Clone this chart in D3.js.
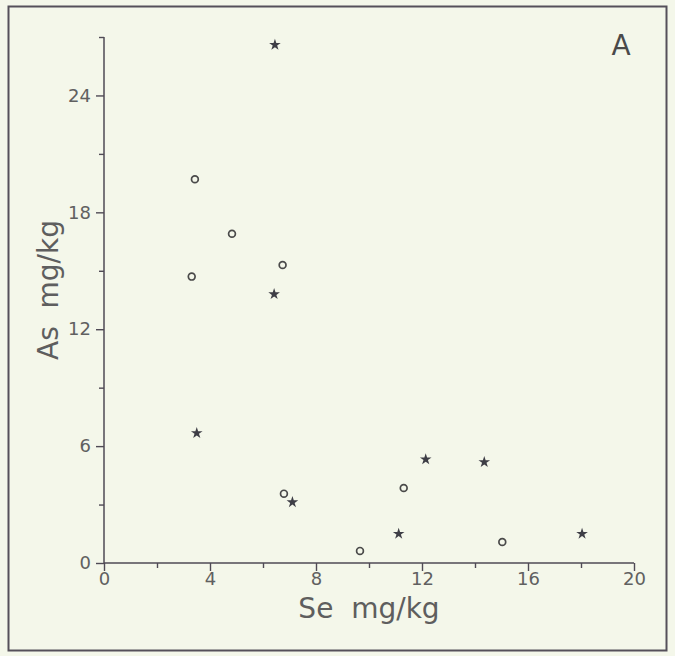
<!DOCTYPE html>
<html>
<head>
<meta charset="utf-8">
<script src="https://cdn.jsdelivr.net/npm/d3@7"></script>
<style>
  body { margin: 0; background: #f4f7ea; }
  svg { display: block; }
  .tick text { font-family: "DejaVu Sans", sans-serif; fill: #606060; }
  .title { font-family: "DejaVu Sans", sans-serif; fill: #5e5e5e; white-space: pre; }
</style>
</head>
<body>
<div id="chart"></div>
<script>
// Se (x) and As (y), mg/kg.
var starSe = [6.45, 6.42, 3.5, 7.11, 12.14, 14.35, 11.12, 18.04];
var starAs = [26.6, 13.8, 6.67, 3.12, 5.32, 5.18, 1.5, 1.5];
var circSe = [3.43, 4.83, 3.31, 6.74, 6.79, 11.31, 9.66, 15.03];
var circAs = [19.7, 16.9, 14.7, 15.3, 3.56, 3.85, 0.62, 1.08];

var xMajor = [0, 4, 8, 12, 16, 20];
var xMinor = [2, 6, 10, 14, 18];
var yMajor = [0, 6, 12, 18, 24];
var yMinor = [3, 9, 15, 21, 27];

var width = 675, height = 656;
var ink = "#4f4a55";

var svg = d3.select("#chart").append("svg")
    .attr("width", width)
    .attr("height", height);

// Frame round the whole panel.
svg.append("rect")
    .attr("x", 8.5).attr("y", 6.5)
    .attr("width", 658).attr("height", 644)
    .attr("fill", "#f4f7ea")
    .attr("stroke", "#55505a")
    .attr("stroke-width", 2);

var x = d3.scaleLinear().domain([0, 20]).range([104, 634]);
var y = d3.scaleLinear().domain([0, 27]).range([563, 37]);

function styleAxis(g) {
  g.selectAll("line").attr("stroke", ink).attr("stroke-width", 1.4);
  g.select(".domain").remove();
}

// Axis lines
svg.append("line")
    .attr("x1", x(0)).attr("x2", x(20))
    .attr("y1", y(0)).attr("y2", y(0))
    .attr("stroke", ink).attr("stroke-width", 1.5);
svg.append("line")
    .attr("x1", x(0)).attr("x2", x(0))
    .attr("y1", y(0)).attr("y2", y(27))
    .attr("stroke", ink).attr("stroke-width", 1.5);

// X axis: major with labels, minor without.
svg.append("g")
    .attr("transform", "translate(0," + y(0) + ")")
    .call(d3.axisBottom(x).tickValues(xMajor).tickSize(8).tickPadding(1).tickFormat(d3.format("d")))
    .call(styleAxis)
    .selectAll("text").style("font-size", "18px");
svg.append("g")
    .attr("transform", "translate(0," + y(0) + ")")
    .call(d3.axisBottom(x).tickValues(xMinor).tickSize(5).tickFormat(""))
    .call(styleAxis);

// Y axis
svg.append("g")
    .attr("transform", "translate(" + x(0) + ",0)")
    .call(d3.axisLeft(y).tickValues(yMajor).tickSize(8).tickPadding(5).tickFormat(d3.format("d")))
    .call(styleAxis)
    .selectAll("text").style("font-size", "18px");
svg.append("g")
    .attr("transform", "translate(" + x(0) + ",0)")
    .call(d3.axisLeft(y).tickValues(yMinor).tickSize(5).tickFormat(""))
    .call(styleAxis);

// Axis titles
svg.append("text")
    .attr("class", "title")
    .attr("x", 369).attr("y", 618)
    .attr("text-anchor", "middle")
    .style("font-size", "28px")
    .text("Se  mg/kg");
svg.append("text")
    .attr("class", "title")
    .attr("transform", "translate(58,290) rotate(-90)")
    .attr("text-anchor", "middle")
    .style("font-size", "28px")
    .text("As  mg/kg");

// Panel letter
svg.append("text")
    .attr("class", "title")
    .attr("x", 621).attr("y", 55)
    .attr("text-anchor", "middle")
    .style("font-size", "28px")
    .style("fill", "#4a4a4a")
    .text("A");

// Open circles
svg.append("g").selectAll("circle")
    .data(d3.zip(circSe, circAs))
    .enter().append("circle")
    .attr("cx", function(d) { return x(d[0]); })
    .attr("cy", function(d) { return y(d[1]); })
    .attr("r", 3.4)
    .attr("fill", "none")
    .attr("stroke", "#4a4a4a")
    .attr("stroke-width", 1.7);

// Filled stars
var star = d3.symbol().type(d3.symbolStar).size(42);
svg.append("g").selectAll("path")
    .data(d3.zip(starSe, starAs))
    .enter().append("path")
    .attr("d", star)
    .attr("transform", function(d) { return "translate(" + x(d[0]) + "," + y(d[1]) + ")"; })
    .attr("fill", "#3e3e46");
</script>
</body>
</html>
